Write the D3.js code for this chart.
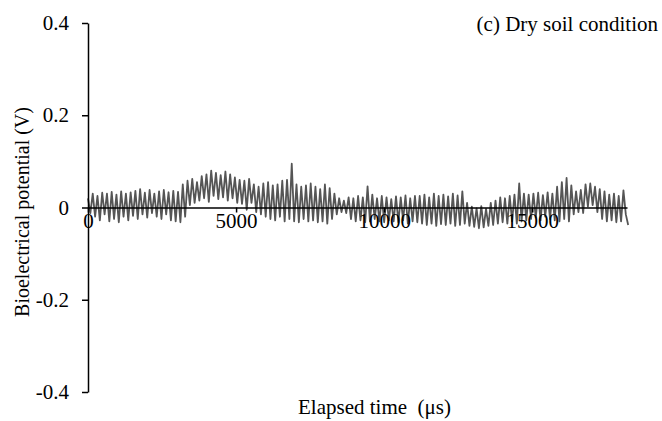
<!DOCTYPE html>
<html><head><meta charset="utf-8">
<script src="https://cdn.jsdelivr.net/npm/d3@7"></script>
<style>body{margin:0;background:#fff}svg{display:block}</style>
</head><body><svg id="c" width="662" height="421"></svg>
<script>
const sampleStepUs = 80;
const potentialV = [
0.020,-0.012,0.030,-0.020,0.025,-0.028,0.032,-0.015,0.030,-0.030,
0.034,-0.025,0.028,-0.032,0.035,-0.020,0.030,-0.028,0.033,-0.018,
0.036,-0.025,0.040,-0.015,0.032,-0.022,0.038,-0.012,0.030,-0.020,
0.035,-0.025,0.038,-0.015,0.033,-0.028,0.036,-0.030,0.034,-0.032,
0.050,-0.020,0.058,0.005,0.062,0.010,0.055,0.015,0.068,0.020,
0.072,0.012,0.080,0.025,0.075,0.018,0.070,0.022,0.078,0.015,
0.072,0.020,0.065,0.010,
0.060,0.008,0.058,-0.005,0.062,0.010,0.050,-0.010,0.045,-0.015,
0.052,-0.020,0.055,-0.025,0.048,-0.028,0.050,-0.020,0.058,-0.030,
0.060,-0.025,
0.095,-0.030,0.050,-0.032,0.045,-0.025,0.048,-0.030,0.052,-0.028,
0.045,-0.032,0.040,-0.030,0.050,-0.035,0.042,-0.025,0.030,-0.015,
0.020,-0.010,0.015,-0.012,
0.022,-0.025,0.020,-0.030,0.025,-0.028,0.022,-0.032,0.046,-0.030,
0.028,-0.025,0.020,-0.030,0.025,-0.032,0.022,-0.028,0.018,-0.030,
0.024,-0.032,0.022,-0.028,0.026,-0.035,0.020,-0.030,0.025,-0.032,
0.025,-0.035,0.028,-0.038,0.022,-0.035,0.030,-0.040,0.025,-0.036,
0.028,-0.038,0.024,-0.035,0.030,-0.040,0.026,-0.038,0.035,-0.035,
0.010,-0.040,0.002,-0.042,-0.002,-0.045,0.003,-0.043,-0.003,-0.040,
0.010,-0.038,0.015,-0.035,0.022,-0.032,0.020,-0.035,0.025,-0.030,
0.028,-0.035,0.052,-0.030,0.030,-0.028,
0.028,-0.025,0.030,-0.022,0.032,-0.028,0.027,-0.020,0.033,-0.025,
0.030,-0.028,0.045,-0.030,0.055,-0.025,0.064,-0.030,0.048,-0.015,
0.035,-0.010,0.038,-0.012,0.050,0.002,0.052,0.005,0.045,-0.010,
0.040,-0.025,0.035,-0.030,0.028,-0.028,0.030,-0.032,0.025,-0.030,
0.037,-0.015,-0.038
];
const xTicks = [0, 5000, 10000, 15000];
const yTicks = [-0.4, -0.2, 0, 0.2, 0.4];
const yTickLabels = ["-0.4", "-0.2", "0", "0.2", "0.4"];
const xDomain = [0, 18200];
const yDomain = [-0.4, 0.4];
const titleText = "(c) Dry soil condition";
const xLabel = "Elapsed time  (\u03bcs)";
const yLabel = "Bioelectrical potential (V)";
const FONT = '"Liberation Serif", Tinos, "Times New Roman", Times, "DejaVu Serif", serif';

const svg = d3.select("#c");
const x = d3.scaleLinear().domain(xDomain).range([88, 627]);
const y = d3.scaleLinear().domain(yDomain).range([392, 23]);
const data = potentialV.map((v, i) => ({t: i * sampleStepUs, v}));

svg.append("path").datum(data)
  .attr("fill", "none").attr("stroke", "#555555").attr("stroke-width", 1.8)
  .attr("stroke-linejoin", "round")
  .attr("d", d3.line().x(d => x(d.t)).y(d => y(d.v)));

const xa = svg.append("g").attr("transform", `translate(0,${y(0)})`)
  .call(d3.axisBottom(x).tickValues(xTicks).tickFormat(d3.format("d")).tickSize(5).tickSizeOuter(0).tickPadding(1));
xa.attr("font-family", null);
xa.selectAll("text").style("font-size", "21px").style("font-family", FONT).attr("fill", "#000");
xa.selectAll("line,path").attr("stroke", "#000").attr("stroke-width", 1.5);

const ya = svg.append("g").attr("transform", `translate(${x(0)},0)`)
  .call(d3.axisLeft(y).tickValues(yTicks).tickFormat((d, i) => yTickLabels[i]).tickSize(6).tickSizeOuter(0).tickPadding(13));
ya.attr("font-family", null);
ya.selectAll("text").style("font-size", "21px").style("font-family", FONT).attr("fill", "#000");
ya.selectAll("line,path").attr("stroke", "#000").attr("stroke-width", 1.5);

svg.append("text").attr("x", 658).attr("y", 31).attr("text-anchor", "end")
  .style("font-size", "21px").style("font-family", FONT).text(titleText);
svg.append("text").attr("x", 298).attr("y", 414).attr("text-anchor", "start")
  .style("white-space", "pre").attr("xml:space", "preserve")
  .style("font-size", "21px").style("font-family", FONT).text(xLabel);
svg.append("text").attr("transform", "translate(29,212) rotate(-90)").attr("text-anchor", "middle")
  .style("font-size", "20px").style("font-family", FONT).text(yLabel);
</script></body></html>
